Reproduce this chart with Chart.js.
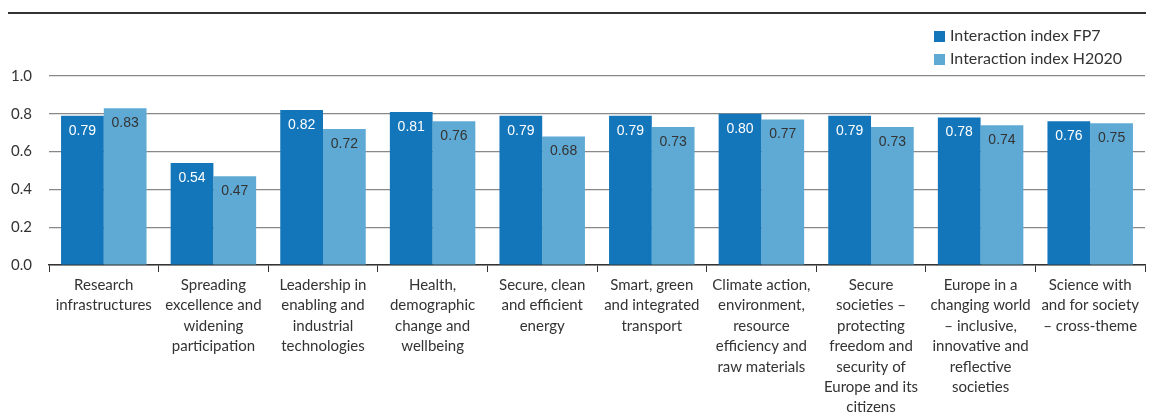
<!DOCTYPE html>
<html>
<head>
<meta charset="utf-8">
<script src="https://cdn.jsdelivr.net/npm/chart.js@4"></script>
<style>
  body { margin: 0; background: #fff; }
  #wrap { position: relative; width: 1152px; height: 412px; }
  #topline { position: absolute; left: 8px; right: 6px; top: 12px; border-top: 2px solid #333; }
  #legend { position: absolute; left: 934px; top: 25px; font: 16px Lato, "Noto Sans", sans-serif; color: #333; }
  #legend div { height: 23px; line-height: 20px; }
  #legend span { display: inline-block; width: 11px; height: 11px; margin-right: 5px; vertical-align: -1px; }
</style>
</head>
<body>
<div id="wrap">
  <div id="topline"></div>
  <canvas id="chart"></canvas>
  <div id="legend"></div>
</div>
<script>
/* Data */
var categories = [
	["Research", "infrastructures"],
	["Spreading", "excellence and", "widening", "participation"],
	["Leadership in", "enabling and", "industrial", "technologies"],
	["Health,", "demographic", "change and", "wellbeing"],
	["Secure, clean", "and efficient", "energy"],
	["Smart, green", "and integrated", "transport"],
	["Climate action,", "environment,", "resource", "efficiency and", "raw materials"],
	["Secure", "societies –", "protecting", "freedom and", "security of", "Europe and its", "citizens"],
	["Europe in a", "changing world", "– inclusive,", "innovative and", "reflective", "societies"],
	["Science with", "and for society", "– cross-theme"]
];
var seriesNames = ["Interaction index FP7", "Interaction index H2020"];
var fp7 = [0.79, 0.54, 0.82, 0.81, 0.79, 0.79, 0.80, 0.79, 0.78, 0.76];
var h2020 = [0.83, 0.47, 0.72, 0.76, 0.68, 0.73, 0.77, 0.73, 0.74, 0.75];
var yTicks = [0, 0.2, 0.4, 0.6, 0.8, 1.0];

var colors = ["#1376bb", "#5eaad5"];
var labelColors = ["#ffffff", "#333333"];
var textFont = 'Lato, "Noto Sans", sans-serif';

/* Legend */
var legend = document.getElementById("legend");
seriesNames.forEach(function (name, i) {
	var row = document.createElement("div");
	row.innerHTML = '<span style="background:' + colors[i] + '"></span>' + name;
	legend.appendChild(row);
});

/* Value labels inside the bars */
var valueLabels = {
	id: "valueLabels",
	afterDatasetsDraw: function (chart) {
		var ctx = chart.ctx;
		ctx.save();
		ctx.font = '14px "Liberation Sans", Arial, sans-serif';
		ctx.textAlign = "center";
		ctx.textBaseline = "middle";
		chart.data.datasets.forEach(function (ds, i) {
			var meta = chart.getDatasetMeta(i);
			ctx.fillStyle = labelColors[i];
			meta.data.forEach(function (bar, j) {
				ctx.fillText(ds.data[j].toFixed(2), bar.x, bar.y + 15);
			});
		});
		ctx.restore();
	}
};

var ctx = document.getElementById("chart");
var chart = new Chart(ctx, {
	type: "bar",
	data: {
		labels: categories,
		datasets: [
			{ label: seriesNames[0], data: fp7, backgroundColor: colors[0] },
			{ label: seriesNames[1], data: h2020, backgroundColor: colors[1] }
		]
	},
	options: {
		responsive: true,
		maintainAspectRatio: false,
		animation: false,
		layout: { padding: { top: 76, right: 7, left: 0, bottom: 0 } },
		datasets: { bar: { categoryPercentage: 0.78, barPercentage: 1.0 } },
		plugins: { legend: { display: false }, tooltip: { enabled: false } },
		scales: {
			x: {
				grid: { display: true, drawOnChartArea: false, drawTicks: true, tickLength: 7, color: "#333", offset: true },
				border: { display: true, color: "#333", width: 1.5 },
				ticks: {
					color: "#333",
					font: { family: textFont, size: 15, lineHeight: 1.36 },
					maxRotation: 0,
					autoSkip: false,
					padding: 3
				},
				afterFit: function (scale) { scale.height = 147; }
			},
			y: {
				min: 0,
				max: 1.0,
				afterBuildTicks: function (scale) {
					scale.ticks = yTicks.map(function (v) { return { value: v }; });
				},
				grid: { color: "#888", lineWidth: 1.2, drawTicks: false },
				border: { display: false },
				ticks: {
					color: "#333",
					font: { family: textFont, size: 15 },
					padding: 17,
					callback: function (v) { return v.toFixed(1); }
				},
				afterFit: function (scale) { scale.width = 49; }
			}
		}
	},
	plugins: [valueLabels]
});
</script>
</body>
</html>
